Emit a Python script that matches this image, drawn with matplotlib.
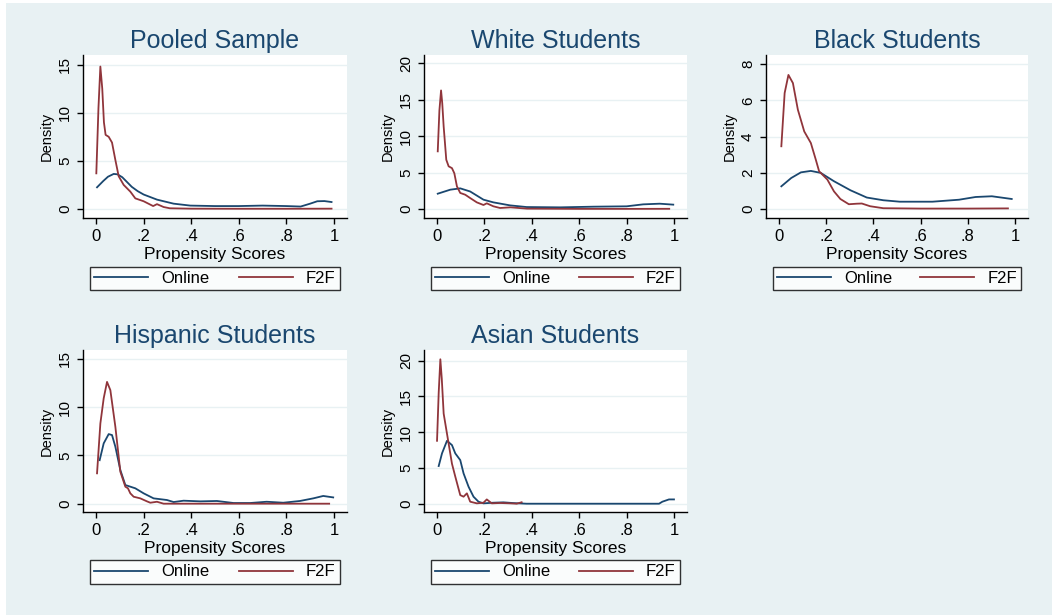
import numpy as np
import matplotlib.pyplot as plt
from matplotlib.patches import Rectangle

plt.rcParams['font.family'] = ['Liberation Sans', 'DejaVu Sans']

BG = '#E8F1F3'
NAVY = '#1A476F'
MAROON = '#90353B'

titles = ["Pooled Sample", "White Students", "Black Students",
          "Hispanic Students", "Asian Students"]
series_names = ["Online", "F2F"]
x_ticks = [0, 0.2, 0.4, 0.6, 0.8, 1.0]
x_ticklabels = ["0", ".2", ".4", ".6", ".8", "1"]

# Pooled sample
pooled_online_x = [0.004, 0.03, 0.05, 0.074, 0.09, 0.11, 0.13, 0.15, 0.175, 0.2, 0.256, 0.326, 0.396,
                   0.5, 0.6, 0.7, 0.8, 0.86, 0.9, 0.93, 0.96, 0.99]
pooled_online_y = [2.25, 2.9, 3.35, 3.64, 3.6, 3.3, 2.8, 2.3, 1.85, 1.5, 0.97, 0.55, 0.35,
                   0.3, 0.3, 0.35, 0.3, 0.25, 0.55, 0.8, 0.82, 0.72]
pooled_f2f_x = [0.001, 0.01, 0.018, 0.026, 0.033, 0.04, 0.053, 0.067, 0.081, 0.095, 0.116, 0.144,
                0.165, 0.2, 0.228, 0.24, 0.256, 0.284, 0.31, 0.4, 0.6, 0.8, 0.99]
pooled_f2f_y = [3.7, 10.5, 14.8, 12.5, 9.0, 7.7, 7.5, 6.9, 5.1, 3.4, 2.5, 1.8,
                1.1, 0.8, 0.45, 0.3, 0.5, 0.2, 0.07, 0.03, 0.02, 0.02, 0.03]

# White students
white_online_x = [0.003, 0.056, 0.098, 0.14, 0.196, 0.238, 0.308, 0.378, 0.52, 0.66, 0.8, 0.87, 0.94, 0.997]
white_online_y = [2.1, 2.65, 2.83, 2.4, 1.28, 0.91, 0.5, 0.27, 0.23, 0.32, 0.37, 0.64, 0.73, 0.6]
white_f2f_x = [0.003, 0.01, 0.017, 0.022, 0.028, 0.039, 0.049, 0.063, 0.073, 0.084, 0.098, 0.119,
               0.14, 0.168, 0.196, 0.21, 0.238, 0.266, 0.31, 0.38, 0.6, 0.8, 0.98]
white_f2f_y = [7.9, 13.5, 16.25, 14.5, 11.3, 6.75, 5.85, 5.6, 4.9, 3.1, 2.2, 1.96,
               1.5, 0.91, 0.55, 0.78, 0.37, 0.14, 0.23, 0.05, 0.02, 0.02, 0.03]

# Black students
black_online_x = [0.01, 0.052, 0.093, 0.135, 0.177, 0.233, 0.303, 0.372, 0.442, 0.512, 0.65,
                  0.763, 0.833, 0.902, 0.986]
black_online_y = [1.25, 1.71, 2.02, 2.1, 1.99, 1.53, 1.03, 0.63, 0.48, 0.4, 0.4,
                  0.51, 0.66, 0.7, 0.55]
black_f2f_x = [0.01, 0.024, 0.04, 0.059, 0.08, 0.107, 0.135, 0.156, 0.17, 0.205, 0.233, 0.26,
               0.296, 0.33, 0.351, 0.386, 0.442, 0.6, 0.8, 0.97]
black_f2f_y = [3.46, 6.4, 7.4, 6.95, 5.48, 4.28, 3.64, 2.72, 2.08, 1.62, 0.97, 0.55,
               0.26, 0.29, 0.3, 0.15, 0.04, 0.02, 0.02, 0.03]

# Hispanic students
hisp_online_x = [0.015, 0.032, 0.053, 0.067, 0.081, 0.102, 0.123, 0.144, 0.165, 0.2, 0.242, 0.298,
                 0.326, 0.368, 0.438, 0.508, 0.578, 0.648, 0.717, 0.787, 0.857, 0.913, 0.955, 0.997]
hisp_online_y = [4.5, 6.24, 7.2, 7.1, 5.9, 3.48, 1.93, 1.76, 1.59, 1.07, 0.55, 0.38,
                 0.17, 0.31, 0.24, 0.28, 0.07, 0.07, 0.2, 0.1, 0.28, 0.55, 0.8, 0.65]
hisp_f2f_x = [0.004, 0.018, 0.032, 0.046, 0.06, 0.081, 0.102, 0.123, 0.134, 0.144, 0.158, 0.186,
              0.214, 0.228, 0.256, 0.284, 0.5, 0.7, 0.98]
hisp_f2f_y = [3.14, 8.3, 10.9, 12.6, 11.75, 7.97, 3.31, 1.76, 1.59, 1.07, 0.72, 0.55,
              0.24, 0.1, 0.2, 0.0, 0.0, 0.0, 0.0]

# Asian students
asian_online_x = [0.007, 0.021, 0.042, 0.063, 0.077, 0.098, 0.112, 0.133, 0.154, 0.175, 0.196,
                  0.238, 0.28, 0.322, 0.378, 0.6, 0.8, 0.937, 0.951, 0.979, 1.0]
asian_online_y = [5.27, 7.04, 8.8, 8.2, 7.04, 6.1, 4.24, 2.38, 0.98, 0.28, 0.05,
                  0.14, 0.19, 0.09, 0.0, 0.0, 0.0, 0.0, 0.28, 0.6, 0.6]
asian_f2f_x = [0.0, 0.007, 0.014, 0.02, 0.028, 0.049, 0.063, 0.077, 0.098, 0.112, 0.126, 0.14,
               0.168, 0.196, 0.21, 0.231, 0.266, 0.308, 0.336, 0.357]
asian_f2f_y = [8.8, 15.5, 20.2, 17.5, 12.6, 8.4, 5.6, 3.8, 1.2, 0.98, 1.45, 0.28,
               0.05, 0.14, 0.6, 0.05, 0.1, 0.05, 0.0, 0.2]

panels = [
    (pooled_online_x, pooled_online_y, pooled_f2f_x, pooled_f2f_y),
    (white_online_x, white_online_y, white_f2f_x, white_f2f_y),
    (black_online_x, black_online_y, black_f2f_x, black_f2f_y),
    (hisp_online_x, hisp_online_y, hisp_f2f_x, hisp_f2f_y),
    (asian_online_x, asian_online_y, asian_f2f_x, asian_f2f_y),
]
y_ticks = [[0, 5, 10, 15], [0, 5, 10, 15, 20], [0, 2, 4, 6, 8], [0, 5, 10, 15], [0, 5, 10, 15, 20]]
y_lims = [(-0.94, 16.0), (-1.23, 21.1), (-0.5, 8.5), (-0.86, 15.9), (-1.16, 21.5)]

# axes boxes in pixels: left, top, right, bottom
W, H = 1052, 615
boxes = [(83, 55, 347, 218), (424, 55, 687, 218), (766, 55, 1028, 218),
         (83, 350, 347, 512), (424, 350, 687, 512)]

fig = plt.figure(figsize=(W / 100, H / 100), dpi=100)
fig.patch.set_facecolor('white')
fig.patches.append(Rectangle((6 / W, 0), 1 - 6 / W, 1 - 3 / H, transform=fig.transFigure,
                             facecolor=BG, edgecolor='none', zorder=-10))

for i, (ox, oy, fx, fy) in enumerate(panels):
    l, t, r, b = boxes[i]
    ax = fig.add_axes([l / W, 1 - b / H, (r - l) / W, (b - t) / H])
    ax.set_facecolor('white')
    ax.plot(ox, oy, color=NAVY, lw=1.3, label=series_names[0], solid_joinstyle='round')
    ax.plot(fx, fy, color=MAROON, lw=1.3, label=series_names[1], solid_joinstyle='round')
    ax.set_xlim(-0.055, 1.055)
    ax.set_ylim(*y_lims[i])
    ax.set_xticks(x_ticks)
    ax.set_xticklabels(x_ticklabels, fontsize=12)
    ax.set_yticks(y_ticks[i])
    ax.set_yticklabels([str(v) for v in y_ticks[i]], fontsize=11, rotation=90, va='center')
    ax.tick_params(length=4, width=1, color='black', pad=4)
    for yv in y_ticks[i]:
        ax.axhline(yv, color=BG, lw=1, zorder=0)
    for s in ['top', 'right']:
        ax.spines[s].set_visible(False)
    for s in ['left', 'bottom']:
        ax.spines[s].set_color('black')
        ax.spines[s].set_linewidth(1)
    ax.set_title(titles[i], fontsize=18, color=NAVY, pad=5)
    ax.set_xlabel("Propensity Scores", fontsize=12.5, labelpad=2)
    ax.set_ylabel("Density", fontsize=10.5, labelpad=3)
    leg = ax.legend(loc='lower left', bbox_to_anchor=(0.027, -0.442, 0.946, 0.154),
                    mode='expand', ncol=2, fontsize=12, frameon=True, fancybox=False,
                    edgecolor='black', handlelength=3.2, handletextpad=0.8,
                    borderpad=0.25, borderaxespad=0)
    leg.get_frame().set_linewidth(1)

plt.savefig('out.png', dpi=100, facecolor=fig.get_facecolor())
